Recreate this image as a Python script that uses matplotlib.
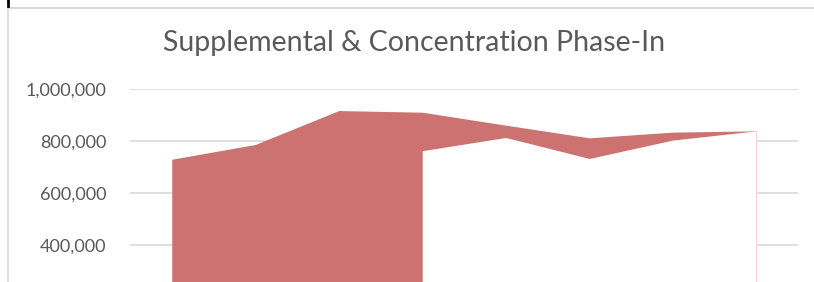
import matplotlib
matplotlib.use("Agg")
import matplotlib.pyplot as plt
from matplotlib.ticker import FuncFormatter, FixedLocator
from matplotlib.lines import Line2D

# ---- data ----
categories = ["1", "2", "3", "4", "5", "6", "7", "8"]
total_values = [730000, 787000, 918000, 911500, 861500, 812700, 834600, 839600]
base_values = [None, None, None, 763000, 814000, 733000, 804000, 839600]
y_ticks = [400000, 600000, 800000, 1000000]
title = "Supplemental & Concentration Phase-In"

RED = "#CC7270"
GRID = "#D9D9D9"
TXT = "#595959"

W, H = 814, 282
fig = plt.figure(figsize=(W / 100, H / 100), dpi=100)
fig.patch.set_facecolor("white")

# axes: plot area x 130..798 px, top at 89 px (1,000,000), bottom cut at 282 px
left, right, top, bottom = 130, 798, 89.3, 282
ax = fig.add_axes([left / W, 1 - bottom / H, (right - left) / W, (bottom - top) / H])
ymax = 1000000
px_per_val = (244.7 - 89.3) / 600000
ymin = ymax - (bottom - top) / px_per_val
ax.set_ylim(ymin, ymax)
ax.set_xlim(-0.5, len(categories) - 0.5)

x = list(range(len(categories)))
ax.fill_between(x, total_values, 0, color=RED, lw=0, zorder=2)
bx = [i for i, v in zip(x, base_values) if v is not None]
bv = [v for v in base_values if v is not None]
ax.fill_between(bx, bv, 0, color="white", lw=0, zorder=3)
# faint edge of the red area peeking at the right side
ax.plot([bx[-1], bx[-1]], [0, bv[-1]], color="#F2D3D3", lw=0.8, zorder=4)

ax.yaxis.set_major_locator(FixedLocator(y_ticks))
ax.yaxis.set_major_formatter(FuncFormatter(lambda v, p: f"{int(v):,}"))
ax.grid(axis="y", color=GRID, lw=1.2, zorder=0)
ax.set_axisbelow(True)
ax.set_xticks([])
for s in ax.spines.values():
    s.set_visible(False)
ax.tick_params(axis="y", length=0, pad=17, labelsize=13, labelcolor=TXT)
for lab in ax.get_yticklabels():
    lab.set_fontfamily("Lato")

fig.text(414 / W, 1 - 43 / H, title, ha="center", va="center",
         fontsize=20.5, color=TXT, family="Lato")

# chart border (left and top) and small mark
fig.add_artist(Line2D([7.5 / W, W / W], [1 - 7.5 / H, 1 - 7.5 / H], color="#D9D9D9", lw=1.5))
fig.add_artist(Line2D([7.5 / W, 7.5 / W], [0, 1 - 7.5 / H], color="#D9D9D9", lw=1.2))
fig.add_artist(Line2D([8 / W, 8 / W], [1 - 6 / H, 1], color="black", lw=2))

fig.savefig("out.png", dpi=100)
